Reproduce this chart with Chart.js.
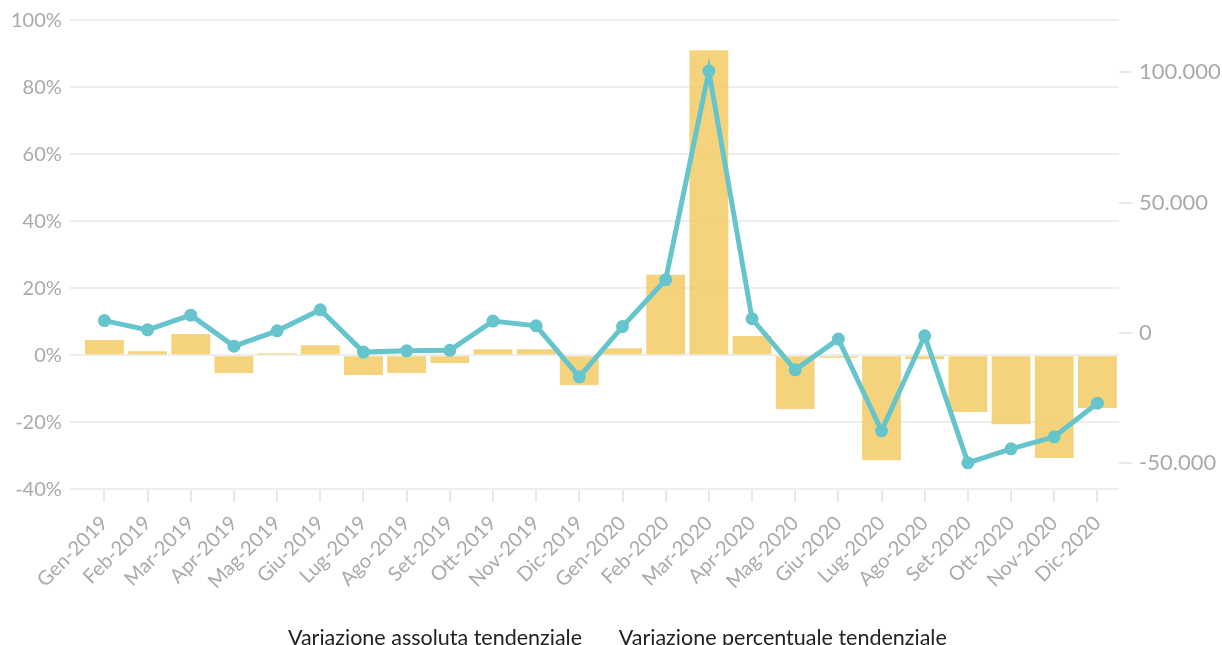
<!DOCTYPE html>
<html>
<head>
<meta charset="utf-8">
<script src="https://cdn.jsdelivr.net/npm/chart.js@4"></script>
<style>
  html, body { margin: 0; padding: 0; background: #fff; overflow: hidden; }
  #wrap { position: relative; width: 1222px; height: 659px; }
</style>
</head>
<body>
<div id="wrap"><canvas id="chart"></canvas></div>
<script>
const months = ['Gen-2019','Feb-2019','Mar-2019','Apr-2019','Mag-2019','Giu-2019','Lug-2019','Ago-2019','Set-2019','Ott-2019','Nov-2019','Dic-2019',
  'Gen-2020','Feb-2020','Mar-2020','Apr-2020','Mag-2020','Giu-2020','Lug-2020','Ago-2020','Set-2020','Ott-2020','Nov-2020','Dic-2020'];

// absolute change (right axis)
const absChange = [4700, 1150, 6800, -5100, 770, 8850, -7400, -6900, -6700, 4500, 2700, -16900,
  2400, 20400, 100500, 5400, -14200, -2400, -37600, -1150, -49900, -44500, -39900, -27000];

// percent change (left axis)
const pctChange = [4.5, 1.2, 6.3, -5.3, 0.6, 3.0, -5.9, -5.3, -2.3, 1.8, 1.8, -8.9,
  2.1, 24, 91, 5.7, -16.1, -0.8, -31.4, -1.2, -17, -20.6, -30.7, -15.8];

// tick values shown on the right axis
const absTicks = [-50000, 0, 50000, 100000];

const tickGray = '#aaaaaa';
const gridGray = '#eeeeee';
const family = 'Lato, "Noto Sans", sans-serif';
const tickFont = { family: family, size: 20 };

const fmtAbs = v => v === 0 ? '0' : String(v).replace(/\B(?=(\d{3})+(?!\d))/g, '.');

new Chart(document.getElementById('chart'), {
  data: {
    labels: months,
    datasets: [{
      type: 'line',
      label: 'Variazione assoluta tendenziale',
      data: absChange,
      yAxisID: 'yAbs',
      borderColor: '#66c5cc',
      backgroundColor: '#66c5cc',
      borderWidth: 5,
      pointRadius: 4,
      pointHoverRadius: 5,
      tension: 0
    }, {
      type: 'bar',
      label: 'Variazione percentuale tendenziale',
      data: pctChange,
      yAxisID: 'yPct',
      backgroundColor: 'rgba(243, 200, 92, 0.8)',
      barPercentage: 0.9,
      categoryPercentage: 1.0
    }]
  },
  options: {
    responsive: true,
    maintainAspectRatio: false,
    animation: false,
    layout: { padding: { top: 14, right: 2, left: 3, bottom: 0 } },
    plugins: {
      tooltip: { enabled: false },
      legend: {
        position: 'bottom',
        labels: {
          color: '#222',
          font: { family: family, size: 21.5 },
          boxWidth: 1,
          padding: 25,
          generateLabels: chart => Chart.defaults.plugins.legend.labels.generateLabels(chart).map(l => {
            l.fillStyle = 'transparent';
            l.strokeStyle = 'transparent';
            l.lineWidth = 0;
            return l;
          })
        }
      }
    },
    scales: {
      x: {
        offset: true,
        grid: { offset: false, drawOnChartArea: false, drawTicks: true, tickLength: 13, color: '#e8e8e8', lineWidth: 2 },
        border: { display: false },
        ticks: { color: tickGray, font: tickFont, maxRotation: 45, minRotation: 45, autoSkip: false, padding: 9 }
      },
      yPct: {
        position: 'left',
        min: -40,
        max: 100,
        grid: { color: gridGray, lineWidth: 2, tickLength: 13 },
        border: { display: false },
        ticks: { stepSize: 20, color: tickGray, font: tickFont, padding: 8, callback: v => v + '%' }
      },
      yAbs: {
        position: 'right',
        min: -60000,
        max: 120000,
        afterBuildTicks: axis => { axis.ticks = absTicks.map(v => ({ value: v })); },
        afterFit: axis => { axis.width = 101; },
        grid: { drawOnChartArea: false, tickLength: 13, lineWidth: 2, color: '#e8e8e8' },
        border: { display: false },
        ticks: { color: tickGray, font: { family: family, size: 22 }, padding: 7, callback: v => fmtAbs(v) }
      }
    }
  }
});
</script>
</body>
</html>
